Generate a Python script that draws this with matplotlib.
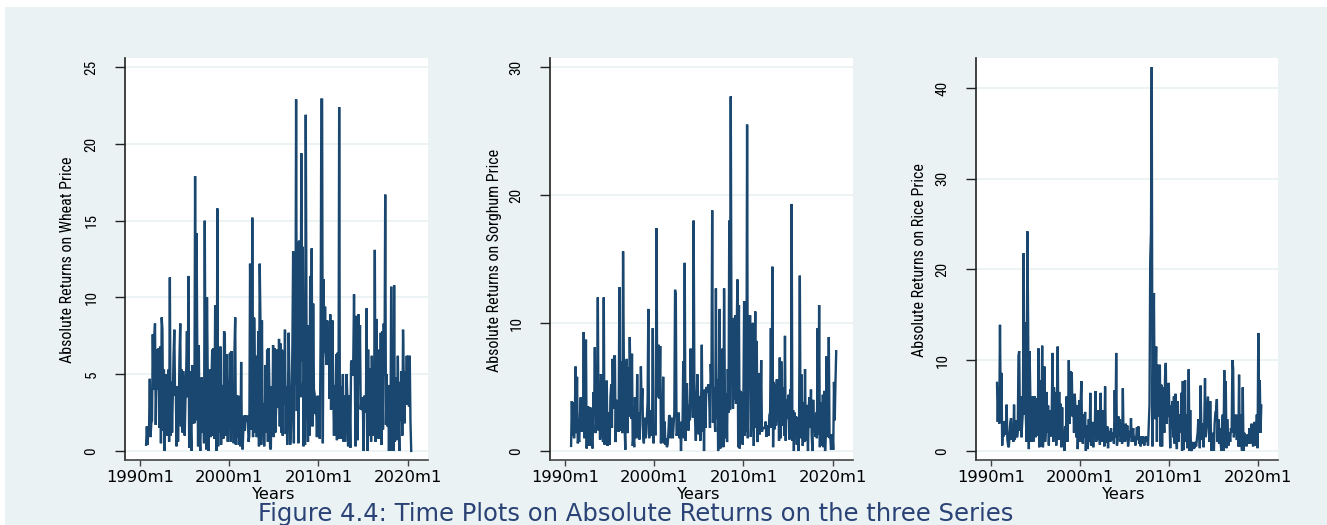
import numpy as np
import matplotlib
matplotlib.use("Agg")
import matplotlib.pyplot as plt
from matplotlib import font_manager
from matplotlib.patches import Rectangle

# ---------------- data (monthly, 1990m9 .. 2020m6) ----------------
start_year, start_month = 1990, 9

wheat = [
    0.4, 1.6, 0.4, 1.6,                                              # 1990
    1.5, 4.7, 0.9, 1.8, 2.0, 7.6, 4.0, 7.3, 8.3, 1.7, 4.4, 6.6,      # 1991
    4.0, 6.7, 1.5, 6.8, 0.5, 8.7, 7.9, 1.3, 5.3, 0.0, 5.0, 4.2,      # 1992
    1.0, 3.6, 5.3, 0.6, 11.3, 1.0, 4.5, 1.2, 3.8, 6.2, 7.9, 3.6,     # 1993
    4.0, 0.3, 4.2, 0.6, 2.8, 6.2, 8.3, 1.6, 5.3, 1.2, 5.2, 2.5,      # 1994
    1.0, 3.3, 5.2, 7.8, 3.5, 11.4, 0.2, 5.2, 1.8, 0.0, 5.6, 1.8,     # 1995
    5.5, 1.8, 17.9, 2.0, 14.2, 5.7, 0.3, 6.9, 1.0, 0.0, 2.8, 4.8,    # 1996
    1.2, 3.0, 0.5, 15.0, 3.6, 0.1, 10.0, 5.0, 0.0, 1.8, 5.3, 0.9,    # 1997
    4.5, 6.6, 1.0, 6.7, 0.8, 9.5, 1.4, 0.0, 15.8, 0.3, 6.7, 1.2,     # 1998
    6.8, 0.4, 4.3, 2.4, 0.8, 7.8, 7.6, 1.0, 4.3, 6.3, 0.6, 4.6,      # 1999
    2.0, 6.4, 0.6, 6.5, 1.5, 3.9, 0.5, 6.5, 8.7, 0.4, 3.6, 0.9,      # 2000
    3.6, 0.4, 1.8, 0.3, 5.8, 0.9, 0.1, 1.4, 2.3, 1.3, 2.3, 1.9,      # 2001
    2.3, 2.1, 0.6, 1.0, 12.2, 8.0, 1.4, 15.2, 0.9, 8.7, 8.6, 1.2,    # 2002
    6.2, 0.9, 2.8, 7.8, 0.3, 12.2, 8.4, 0.4, 8.5, 1.0, 3.1, 0.3,     # 2003
    2.5, 5.6, 1.2, 6.6, 0.6, 6.7, 4.2, 0.2, 0.1, 4.2, 1.0, 6.9,      # 2004
    0.9, 6.7, 1.2, 2.6, 6.6, 2.8, 3.1, 7.3, 1.6, 7.0, 1.2, 6.6,      # 2005
    1.0, 6.5, 3.0, 7.9, 1.1, 4.2, 0.4, 3.5, 7.7, 4.5, 0.4, 1.2,      # 2006
    3.2, 6.8, 13.0, 0.5, 12.9, 4.3, 22.9, 2.6, 13.6, 0.5, 13.7, 4.6, # 2007
    3.5, 19.4, 5.8, 13.3, 0.3, 6.0, 0.4, 21.9, 8.3, 3.0, 0.6, 8.2,   # 2008
    1.0, 11.4, 2.0, 13.2, 1.6, 9.6, 4.0, 3.7, 2.4, 3.0, 0.9, 3.6,    # 2009
    2.6, 1.0, 0.8, 7.8, 22.9, 22.9, 0.5, 11.2, 6.4, 9.4, 6.4, 5.6,   # 2010
    8.5, 5.6, 7.9, 3.4, 8.9, 2.7, 5.1, 8.5, 3.6, 1.0, 4.3, 1.0,      # 2011
    6.3, 0.7, 6.4, 0.8, 22.4, 1.2, 0.8, 4.2, 3.0, 5.0, 0.6, 3.6,     # 2012
    0.6, 2.6, 5.0, 3.5, 0.3, 3.6, 2.9, 0.2, 5.7, 5.9, 4.9, 6.0,      # 2013
    10.2, 5.0, 0.3, 8.8, 6.2, 0.7, 8.9, 4.3, 8.2, 2.7, 3.5, 2.7,     # 2014
    2.6, 0.0, 3.6, 2.5, 2.8, 9.3, 0.0, 6.6, 1.0, 5.4, 2.7, 0.6,      # 2015
    6.2, 1.0, 5.4, 2.6, 13.1, 0.6, 8.6, 1.2, 4.4, 0.8, 6.6, 2.0,     # 2016
    7.7, 0.4, 7.8, 1.4, 8.3, 4.9, 16.7, 1.7, 5.0, 1.6, 4.3, 0.0,     # 2017
    3.3, 0.0, 10.7, 0.5, 4.6, 0.0, 10.8, 0.6, 4.8, 0.7, 1.6, 6.2,    # 2018
    2.1, 0.0, 4.5, 2.0, 5.2, 1.0, 7.9, 4.6, 1.8, 5.2, 3.0, 6.2,      # 2019
    3.0, 6.2, 2.9, 6.2, 1.9, 0.0,                                    # 2020
]

sorghum = [
    0.4, 3.9, 1.2, 3.8,                                              # 1990
    1.0, 2.5, 6.6, 1.4, 5.8, 0.6, 1.0, 0.7, 2.8, 4.2, 1.5, 2.9,      # 1991
    1.6, 9.3, 1.0, 3.0, 8.7, 0.2, 3.2, 3.5, 1.3, 0.4, 3.4, 0.6,      # 1992
    0.6, 0.2, 4.6, 3.0, 8.1, 1.4, 2.5, 3.2, 12.0, 1.6, 4.3, 0.9,     # 1993
    6.0, 5.8, 2.2, 0.7, 12.0, 0.5, 3.5, 0.6, 5.5, 0.4, 0.8, 3.0,     # 1994
    0.5, 4.2, 5.2, 1.8, 7.2, 3.3, 7.4, 7.4, 0.7, 4.0, 1.6, 3.5,      # 1995
    1.5, 12.8, 1.6, 7.0, 4.0, 1.4, 15.6, 7.2, 2.0, 0.1, 6.4, 7.2,    # 1996
    1.4, 6.5, 2.7, 8.9, 5.0, 2.5, 7.6, 0.4, 1.2, 0.3, 4.2, 2.6,      # 1997
    1.0, 6.0, 1.2, 3.0, 0.9, 2.0, 6.6, 3.5, 4.9, 1.3, 0.6, 2.6,      # 1998
    1.0, 1.3, 2.6, 3.8, 11.1, 1.0, 1.3, 1.6, 3.2, 1.2, 9.6, 0.6,     # 1999
    2.0, 1.3, 1.3, 17.4, 4.2, 6.0, 8.3, 4.1, 8.2, 0.6, 3.2, 0.7,     # 2000
    5.8, 0.6, 2.3, 0.5, 1.0, 0.3, 0.5, 1.4, 2.8, 2.7, 1.0, 2.6,      # 2001
    2.4, 1.0, 2.0, 3.0, 12.6, 12.2, 1.2, 1.4, 2.1, 3.0, 1.0, 2.2,    # 2002
    0.0, 2.3, 1.5, 7.0, 1.0, 14.7, 0.8, 4.0, 5.3, 3.1, 1.6, 3.6,     # 2003
    2.4, 8.0, 3.6, 5.5, 2.6, 18.0, 5.5, 2.3, 0.8, 3.2, 6.0, 4.3,     # 2004
    1.3, 4.3, 0.8, 3.2, 8.3, 1.5, 4.5, 0.0, 4.8, 1.8, 5.0, 4.6,      # 2005
    5.0, 5.2, 4.0, 1.8, 6.8, 5.3, 18.8, 2.2, 5.0, 3.0, 1.5, 12.7,    # 2006
    2.5, 5.6, 0.0, 4.0, 11.1, 0.2, 6.0, 3.2, 8.0, 0.3, 12.7, 5.2,    # 2007
    1.0, 4.5, 0.7, 6.4, 3.0, 18.0, 3.2, 27.7, 8.0, 6.5, 3.3, 10.4,   # 2008
    4.0, 10.6, 3.7, 9.5, 13.4, 0.3, 11.4, 0.2, 4.7, 0.6, 4.6, 0.5,   # 2009
    3.9, 11.7, 1.2, 10.9, 1.5, 25.5, 1.0, 10.6, 6.0, 10.6, 1.1, 2.7, # 2010
    9.9, 10.0, 0.4, 6.0, 10.9, 1.8, 8.6, 0.7, 6.1, 3.3, 1.3, 3.2,    # 2011
    7.1, 1.5, 1.8, 1.8, 1.8, 1.8, 2.3, 1.1, 2.0, 1.5, 1.2, 2.8,      # 2012
    3.0, 9.6, 1.8, 14.4, 0.3, 5.4, 1.7, 5.2, 2.0, 5.6, 2.3, 5.6,     # 2013
    0.8, 7.3, 1.0, 7.0, 4.4, 2.0, 5.0, 1.2, 9.0, 0.8, 3.0, 4.0,      # 2014
    2.5, 4.4, 0.9, 4.8, 1.0, 19.3, 0.8, 3.2, 0.0, 3.0, 1.2, 2.7,     # 2015
    0.5, 2.6, 0.0, 2.4, 13.7, 1.0, 6.0, 3.0, 0.4, 3.8, 0.7, 6.4,     # 2016
    0.8, 3.6, 2.0, 0.0, 3.5, 4.2, 1.8, 4.8, 1.2, 0.0, 4.0, 1.5,      # 2017
    2.0, 1.1, 3.0, 1.0, 9.6, 1.3, 11.4, 0.3, 3.8, 1.4, 0.4, 4.4,     # 2018
    0.3, 4.7, 0.0, 1.5, 7.4, 1.1, 1.2, 8.9, 1.0, 1.2, 0.1, 1.3,      # 2019
    1.2, 0.1, 5.4, 2.4, 5.4, 7.8,                                    # 2020
]

rice = [
    7.5, 3.2, 7.0, 3.0,                                              # 1990
    13.9, 4.8, 8.6, 0.6, 3.2, 1.6, 3.3, 1.8, 2.6, 5.1, 1.2, 0.6,     # 1991
    0.4, 2.0, 3.2, 3.6, 1.2, 2.2, 1.0, 5.1, 1.2, 2.0, 3.4, 1.5,      # 1992
    2.0, 10.5, 11.0, 2.2, 6.0, 1.5, 3.0, 4.5, 21.8, 4.0, 14.2, 3.6,  # 1993
    1.0, 24.2, 14.3, 0.2, 11.0, 5.8, 1.0, 1.8, 6.0, 1.0, 2.0, 6.0,   # 1994
    1.5, 3.0, 5.8, 1.7, 11.3, 0.4, 7.8, 0.5, 3.0, 11.6, 0.4, 2.0,    # 1995
    9.3, 1.0, 2.5, 6.5, 2.0, 5.0, 0.6, 4.5, 2.5, 1.6, 4.8, 10.8,     # 1996
    1.0, 7.0, 2.5, 6.5, 0.6, 4.0, 11.5, 1.2, 6.5, 2.0, 5.2, 0.4,     # 1997
    4.8, 0.5, 2.0, 0.0, 2.7, 1.0, 6.0, 1.0, 3.5, 10.0, 3.0, 8.8,     # 1998
    4.0, 8.7, 3.8, 6.0, 2.0, 6.3, 4.5, 1.5, 5.0, 0.2, 2.7, 5.6,      # 1999
    1.0, 5.5, 7.7, 1.5, 0.8, 4.0, 1.5, 4.3, 0.0, 2.8, 0.2, 1.0,      # 2000
    3.5, 1.0, 6.4, 0.6, 2.0, 3.2, 0.4, 2.5, 2.0, 6.6, 1.0, 2.5,      # 2001
    4.5, 1.2, 2.5, 0.7, 6.4, 1.0, 3.5, 1.0, 4.5, 0.5, 7.1, 1.0,      # 2002
    1.0, 2.7, 0.3, 2.2, 1.8, 1.0, 2.5, 1.2, 2.0, 1.5, 0.8, 6.7,      # 2003
    1.5, 10.8, 0.6, 1.2, 3.8, 1.6, 3.5, 1.0, 2.0, 0.8, 6.9, 1.0,     # 2004
    1.6, 1.0, 3.0, 1.2, 2.8, 0.5, 1.2, 2.2, 1.5, 3.6, 1.0, 1.8,      # 2005
    2.5, 1.0, 1.6, 0.6, 1.4, 2.6, 1.2, 2.7, 0.8, 1.4, 0.5, 1.6,      # 2006
    0.8, 1.6, 1.0, 0.6, 1.2, 1.6, 1.0, 1.4, 0.6, 3.0, 5.1, 21.0,     # 2007
    24.0, 42.3, 0.5, 10.0, 17.4, 3.5, 7.5, 11.5, 1.0, 9.5, 3.8, 8.6, # 2008
    9.5, 0.5, 7.3, 0.5, 7.0, 4.0, 2.0, 8.2, 9.7, 3.0, 4.5, 3.8,      # 2009
    7.5, 4.0, 0.3, 5.0, 2.5, 5.5, 1.5, 6.0, 0.8, 6.3, 2.0, 0.2,      # 2010
    5.5, 1.0, 3.0, 4.0, 2.0, 6.4, 0.0, 7.7, 0.1, 2.0, 7.8, 1.0,      # 2011
    4.0, 0.3, 2.0, 9.0, 0.0, 4.5, 0.2, 0.0, 1.0, 0.2, 0.8, 0.3,      # 2012
    1.0, 0.5, 1.2, 2.0, 3.5, 3.0, 0.3, 7.2, 2.8, 1.2, 3.0, 0.4,      # 2013
    3.0, 8.0, 1.5, 3.0, 4.5, 6.0, 2.5, 1.0, 5.5, 2.0, 0.0, 2.0,      # 2014
    1.2, 0.0, 3.0, 4.2, 4.5, 5.7, 1.0, 3.5, 0.8, 2.5, 1.0, 0.0,      # 2015
    3.0, 4.0, 0.0, 8.9, 1.0, 7.7, 0.3, 3.5, 1.5, 0.6, 2.0, 1.0,      # 2016
    2.5, 2.0, 10.0, 9.1, 1.5, 3.0, 2.0, 4.0, 1.2, 3.5, 0.5, 8.4,     # 2017
    0.5, 4.0, 1.0, 0.0, 7.0, 0.0, 2.0, 1.0, 1.5, 0.5, 1.8, 0.8,      # 2018
    1.2, 2.5, 0.8, 1.5, 3.0, 1.2, 0.5, 2.6, 3.2, 0.6, 1.0, 4.0,      # 2019
    0.3, 13.0, 2.0, 7.8, 2.0, 5.0,                                   # 2020
]

series = [wheat, sorghum, rice]
y_labels = ["Absolute Returns on Wheat Price",
            "Absolute Returns on Sorghum Price",
            "Absolute Returns on Rice Price"]
y_ticks = [[0, 5, 10, 15, 20, 25], [0, 10, 20, 30], [0, 10, 20, 30, 40]]
y_limits = [(-0.59, 25.6), (-0.7, 30.7), (-1.0, 43.3)]
x_tick_pos = [1990, 2000, 2010, 2020]
x_tick_labels = ["1990m1", "2000m1", "2010m1", "2020m1"]
x_label = "Years"
caption = "Figure 4.4: Time Plots on Absolute Returns on the three Series"

# ---------------- style ----------------
W, H = 1327, 525
bg = "#EAF2F3"
line_color = "#1A476F"

names = {f.name for f in font_manager.fontManager.ttflist}
narrow = None
for cand in ["Liberation Sans Narrow", "Roboto Condensed", "Noto Sans Condensed",
             "Open Sans Condensed", "DejaVu Sans Condensed"]:
    if cand in names:
        narrow = dict(family=cand)
        break
if narrow is None:
    narrow = dict(family="DejaVu Sans", stretch="condensed")

fig = plt.figure(figsize=(W / 100, H / 100), dpi=100, facecolor="white")
fig.patches.append(Rectangle((5 / W, 0), 1 - 5 / W, (H - 7) / H,
                             transform=fig.transFigure, facecolor=bg,
                             edgecolor="none", zorder=-10))

panel_px = [(125, 428), (550, 853), (976, 1278)]
ylabel_x = [68, 494, 920]
top_px, bot_px = 58, 460

for i, (vals, (x0, x1)) in enumerate(zip(series, panel_px)):
    n = len(vals)
    assert n == 358, (i, n)
    t = start_year + (start_month - 1 + np.arange(n)) / 12.0
    ax = fig.add_axes([x0 / W, 1 - bot_px / H, (x1 - x0) / W, (bot_px - top_px) / H])
    ax.set_facecolor("white")
    ax.plot(t, vals, color=line_color, lw=1.7, solid_joinstyle="miter")
    ax.set_xlim(1988.3, 2022.3)
    ax.set_ylim(*y_limits[i])
    ax.set_yticks(y_ticks[i])
    ax.set_yticklabels([str(v) for v in y_ticks[i]], rotation=90, va="center",
                       fontsize=11, **narrow)
    ax.set_xticks(x_tick_pos)
    ax.set_xticklabels(x_tick_labels, fontsize=11.8, family="DejaVu Sans")
    for v in y_ticks[i]:
        ax.axhline(v, color=bg, lw=1.3, zorder=0)
    for s in ["top", "right"]:
        ax.spines[s].set_visible(False)
    ax.spines["left"].set_color("#222222")
    ax.spines["bottom"].set_color("#444444")
    ax.spines["left"].set_linewidth(1.2)
    ax.spines["bottom"].set_linewidth(1.2)
    ax.tick_params(axis="y", length=7, width=1.0, color="#222222", pad=12)
    ax.tick_params(axis="x", length=4.5, width=1.0, color="#444444", pad=2.6)
    ax.set_xlabel(x_label, fontsize=11.8, family="DejaVu Sans", labelpad=0)
    ax.xaxis.set_label_coords(0.49, (bot_px - 487) / (bot_px - top_px))
    ax.xaxis.label.set_verticalalignment("top")
    fig.text(ylabel_x[i] / W, 1 - 260 / H, y_labels[i], rotation=90,
             ha="center", va="center", fontsize=11.5, **narrow)

fig.text(636 / W, 1 - 502.5 / H, caption, ha="center", va="top",
         fontsize=17.5, color="#2A4275", family="DejaVu Sans")

fig.savefig("out.png", dpi=100, facecolor=fig.get_facecolor())
